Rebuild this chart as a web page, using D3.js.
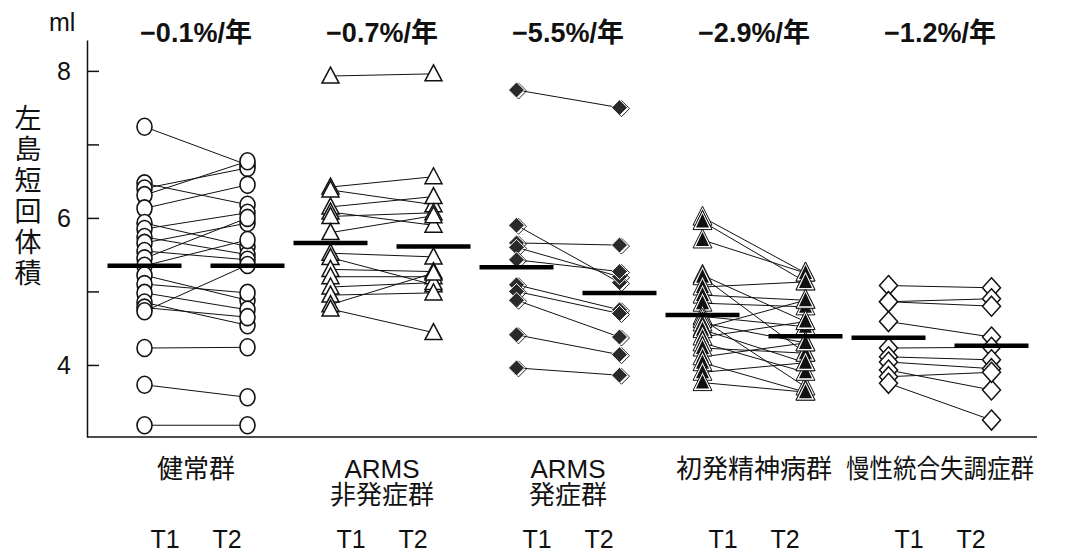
<!DOCTYPE html>
<html>
<head>
<meta charset="utf-8">
<style>
  body { margin: 0; background: #fff; }
  svg text { font-family: "Liberation Sans", Arial, "Noto Sans CJK JP", sans-serif; fill: #111; }
  .rate { font-size: 27px; font-weight: bold; }
  .cat { font-size: 26px; }
  .tp { font-size: 25px; }
  .unit { font-size: 25px; }
  .ylab { font-size: 27px; font-family: "Noto Sans CJK JP", sans-serif; writing-mode: vertical-rl; letter-spacing: 4px; }
  .axis text { font-size: 25px; }
  .axis path, .axis line { stroke: #111; stroke-width: 1.5; }
</style>
</head>
<body>
<div id="chart"></div>
<script src="https://d3js.org/d3.v7.min.js"></script>
<script>
var groups = ["健常群", "ARMS\n非発症群", "ARMS\n発症群", "初発精神病群", "慢性統合失調症群"];
var rates = ["−0.1%/年", "−0.7%/年", "−5.5%/年", "−2.9%/年", "−1.2%/年"];
var times = ["T1", "T2"];

// paired values [T1, T2] per subject, ml
var healthy = [[7.24, 6.72], [6.47, 6.18], [6.40, 6.68], [6.31, 6.77], [6.13, 6.45], [5.93, 5.61],
  [5.85, 6.07], [5.74, 5.50], [5.66, 5.93], [5.55, 5.43], [5.45, 6.00], [5.35, 5.70], [5.22, 4.88],
  [5.10, 4.98], [4.98, 4.75], [4.85, 4.54], [4.78, 4.65], [4.73, 5.36], [4.23, 4.24], [3.73, 3.56], [3.18, 3.18]];
var armsNon = [[7.93, 7.96], [6.42, 6.56], [6.38, 6.18], [6.15, 6.29], [6.08, 5.90], [6.02, 6.07],
  [5.80, 6.03], [5.52, 5.47], [5.46, 5.09], [5.30, 5.27], [5.20, 5.20], [5.06, 5.12], [4.95, 4.98],
  [4.82, 5.25], [4.76, 4.44]];
var armsConv = [[7.74, 7.50], [5.90, 5.12], [5.66, 5.63], [5.60, 5.20], [5.43, 5.27], [5.09, 4.75],
  [5.00, 4.70], [4.88, 4.38], [4.41, 4.14], [3.96, 3.86]];
var firstEp = [[6.01, 5.25], [5.95, 5.13], [5.70, 5.25], [5.22, 4.59], [5.20, 4.16], [5.06, 5.13],
  [4.95, 4.88], [4.84, 4.79], [4.66, 4.52], [4.62, 3.70], [4.57, 4.30], [4.50, 4.88], [4.48, 4.03],
  [4.38, 4.59], [4.30, 3.90], [4.23, 4.16], [4.11, 4.30], [4.03, 3.63], [3.90, 4.03], [3.76, 3.63]];
var chronic = [[5.08, 5.05], [4.86, 4.90], [4.86, 4.80], [4.59, 4.38], [4.23, 4.24], [4.11, 4.07],
  [4.04, 3.95], [3.93, 3.66], [3.84, 3.90], [3.75, 3.25]];
var groupData = [healthy, armsNon, armsConv, firstEp, chronic];
var means = [[5.35, 5.35], [5.66, 5.61], [5.33, 4.98], [4.68, 4.39], [4.37, 4.26]];
var markers = ["circle", "triangle", "diamondFilled", "triangleFilled", "diamond"];

var width = 1079, height = 552;
var svg = d3.select("#chart").append("svg").attr("width", width).attr("height", height);

var y = d3.scaleLinear().domain([3.02, 8.42]).range([437, 40]);
var xg = d3.scaleBand().domain(d3.range(groups.length)).range([103, 1033]);
var xt = d3.scalePoint().domain(times).range([0, xg.bandwidth()]).padding(0.403);
var xl = d3.scalePoint().domain(times).range([0, xg.bandwidth()]).padding(1);
var axisX = 87;

// axes
svg.append("g").attr("class", "axis")
  .attr("transform", "translate(" + axisX + ",0)")
  .call(d3.axisLeft(y).tickValues([4, 5, 6, 7, 8]).tickSizeInner(-12).tickSizeOuter(0).tickPadding(16)
    .tickFormat(function(d) { return d % 2 === 0 ? d : ""; }))
  .selectAll("text").attr("dy", "0.36em");

svg.append("line")
  .attr("x1", axisX).attr("x2", xg.range()[1] + 4)
  .attr("y1", y.range()[0]).attr("y2", y.range()[0])
  .attr("stroke", "#111").attr("stroke-width", 1.5);

svg.append("text").attr("class", "unit").attr("x", 49).attr("y", 31).text("ml");

svg.append("text").attr("class", "ylab").attr("x", 28).attr("y", 104).text("左島短回体積");

function sym(type, g) {
  if (type === "circle") {
    g.append("ellipse").attr("rx", 7.5).attr("ry", 8.5).attr("fill", "#fff").attr("stroke", "#111").attr("stroke-width", 1.6);
  } else if (type === "triangle") {
    g.append("path").attr("d", "M0,-9L8.5,7L-8.5,7Z").attr("fill", "#fff").attr("stroke", "#111").attr("stroke-width", 1.5);
  } else if (type === "triangleFilled") {
    g.append("path").attr("d", "M0,-11L9.5,8L-9.5,8Z").attr("fill", "#fff").attr("stroke", "#111").attr("stroke-width", 1);
    g.append("path").attr("d", "M0,-8L6.5,6L-6.5,6Z").attr("fill", "#111");
  } else if (type === "diamondFilled") {
    g.append("path").attr("d", "M2,-7L10,1L2,9L-6,1Z").attr("fill", "none").attr("stroke", "#222").attr("stroke-width", 1);
    g.append("path").attr("d", "M0,-8L8,0L0,8L-8,0Z").attr("fill", "#2a2a2a").attr("stroke", "#fff").attr("stroke-width", 1);
  } else {
    g.append("path").attr("d", "M0,-10L9,0L0,10L-9,0Z").attr("fill", "#fff").attr("stroke", "#111").attr("stroke-width", 1.5);
  }
}

groupData.forEach(function(data, gi) {
  var gx = xg(gi);
  var g = svg.append("g");
  g.selectAll("line.pair").data(data).enter().append("line")
    .attr("class", "pair")
    .attr("x1", gx + xt("T1")).attr("x2", gx + xt("T2"))
    .attr("y1", function(d) { return y(d[0]); })
    .attr("y2", function(d) { return y(d[1]); })
    .attr("stroke", "#111").attr("stroke-width", 1);
  times.forEach(function(t, ti) {
    g.selectAll("g.m" + ti).data(data).enter().append("g")
      .attr("class", "m" + ti)
      .attr("transform", function(d) { return "translate(" + (gx + xt(t)) + "," + y(d[ti]) + ")"; })
      .each(function() { sym(markers[gi], d3.select(this)); });
  });
  // mean bars
  g.selectAll("line.mean").data(means[gi]).enter().append("line")
    .attr("class", "mean")
    .attr("x1", function(d, i) { return gx + xt(times[i]) - 37; })
    .attr("x2", function(d, i) { return gx + xt(times[i]) + 37; })
    .attr("y1", function(d) { return y(d); }).attr("y2", function(d) { return y(d); })
    .attr("stroke", "#000").attr("stroke-width", 4.5);

  var cx = gx + xg.bandwidth() / 2;
  svg.append("text").attr("class", "rate").attr("x", cx).attr("y", 42)
    .attr("text-anchor", "middle").text(rates[gi]);
  groups[gi].split("\n").forEach(function(s, li) {
    var t = svg.append("text").attr("class", "cat").attr("text-anchor", "middle")
      .attr("x", cx).attr("y", 478 + li * 26).text(s);
    if (s.length > 6) t.attr("textLength", 188).attr("lengthAdjust", "spacingAndGlyphs");
  });
  times.forEach(function(t) {
    svg.append("text").attr("class", "tp").attr("x", gx + xl(t)).attr("y", 548)
      .attr("text-anchor", "middle").text(t);
  });
});
</script>
</body>
</html>
